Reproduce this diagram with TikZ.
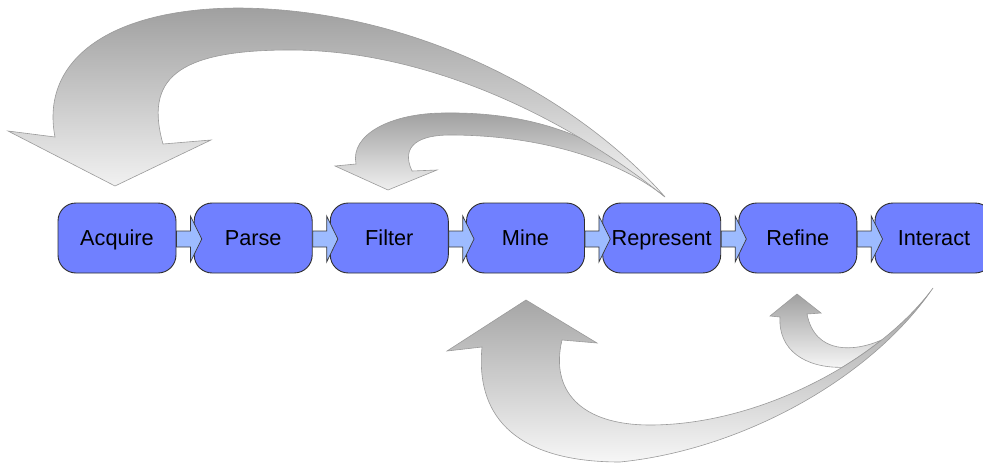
\documentclass[tikz,border=0pt]{standalone}
\usepackage{fontspec}
\setmainfont{Liberation Sans}
\usetikzlibrary{calc}

\definecolor{boxfill}{HTML}{7080FF}
\definecolor{boxline}{HTML}{2E2E2E}
\definecolor{linkfill}{HTML}{9DBBFF}
\definecolor{linkline}{HTML}{3A3A3A}
\definecolor{loopdark}{HTML}{A0A0A0}
\definecolor{looplight}{HTML}{F6F6F6}
\definecolor{loopline}{HTML}{9A9A9A}

% block arrow joining two neighbouring stages
\newcommand\stagelink[2]{%
  \draw[link] ($(#1.east)+(0,-7)$) -- ++(14,0) -- ++(0,-15)
    -- ($(#2.west)+(8,1)$)
    -- ($(#1.east)+(14,24)$) -- ++(0,-15) -- ($(#1.east)+(0,9)$) -- cycle;}

\begin{document}
\begin{tikzpicture}[x=1pt,y=-1pt,
  stage/.style={draw=boxline, line width=0.9pt, fill=boxfill,
    rounded corners=18pt, minimum width=118pt, minimum height=70pt,
    inner sep=0pt, text height=16pt, text depth=2pt,
    font=\fontsize{21.7}{26}\selectfont},
  link/.style={draw=linkline, line width=0.7pt, fill=linkfill, line join=miter},
  loop/.style={draw=loopline, line width=0.6pt, top color=loopdark,
    bottom color=looplight}]

\useasboundingbox (0,0) rectangle (983,463);
\clip (0,0) rectangle (983,463);

% feedback: Represent -> Filter
\path[loop] (665,197) .. controls (600,130) and (520,112) .. (445,113)
  .. controls (390,113) and (350,135) .. (356,164)
  -- (335,166) -- (388,190) -- (437,170) -- (412,171)
  .. controls (400,145) and (420,135) .. (450,135)
  .. controls (540,135) and (620,160) .. (665,197) -- cycle;

% feedback: Represent -> Acquire
\path[loop] (665,197) .. controls (580,100) and (420,10) .. (240,8)
  .. controls (110,8) and (40,60) .. (55,137)
  -- (8,131) -- (115,186) -- (211,140) -- (163,144)
  .. controls (145,80) and (175,50) .. (290,50)
  .. controls (430,50) and (570,120) .. (665,197) -- cycle;

% feedback: Interact -> Refine (tucked under the larger loop)
\path[loop] (881.9,339.8) .. controls (855,352) and (815,355) .. (807,314)
  -- (821,313) -- (797,294) -- (770,316) -- (780,317)
  .. controls (778,350) and (805,368) .. (842.2,367.3)
  .. controls (856.3,358.7) and (869.6,349.5) .. (881.9,339.8) -- cycle;

% feedback: Interact -> Mine
\path[loop] (933,288) .. controls (870,380) and (740,450) .. (620,462)
  .. controls (520,462) and (475,420) .. (482,347)
  -- (447,351) -- (526,300) -- (597,343) -- (562,340)
  .. controls (550,390) and (580,425) .. (650,425)
  .. controls (760,425) and (880,360) .. (933,288) -- cycle;

% pipeline stages
\node[stage] (acq) at (117,238)   {Acquire};
\node[stage] (par) at (253.2,238) {Parse};
\node[stage] (fil) at (389.3,238) {Filter};
\node[stage] (min) at (525.5,238) {Mine};
\node[stage] (rep) at (661.7,238) {Represent};
\node[stage] (ref) at (797.8,238) {Refine};
\node[stage] (int) at (934,238)   {Interact};

\stagelink{acq}{par}
\stagelink{par}{fil}
\stagelink{fil}{min}
\stagelink{min}{rep}
\stagelink{rep}{ref}
\stagelink{ref}{int}
\end{tikzpicture}
\end{document}
